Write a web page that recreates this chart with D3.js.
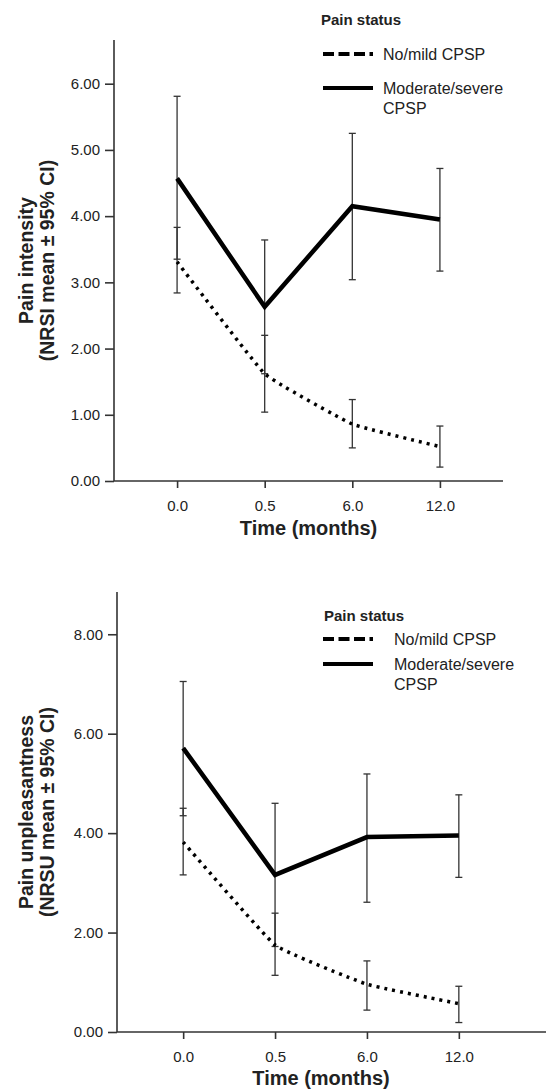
<!DOCTYPE html>
<html>
<head>
<meta charset="utf-8">
<script src="https://cdn.jsdelivr.net/npm/d3@7"></script>
<style>
  body { margin: 0; background: #fff; }
  svg { display: block; font-family: "Liberation Sans", Arial, sans-serif; }
</style>
</head>
<body>
<script>
// time points (categorical)
const timeLabels = ["0.0", "0.5", "6.0", "12.0"];

// pain intensity (NRSI)
const intensityMildMean = [3.31, 1.62, 0.86, 0.52];
const intensityMildLow = [2.84, 1.04, 0.50, 0.21];
const intensityMildHigh = [3.83, 2.20, 1.23, 0.83];
const intensitySevereMean = [4.57, 2.63, 4.15, 3.95];
const intensitySevereLow = [3.35, 1.62, 3.04, 3.17];
const intensitySevereHigh = [5.81, 3.64, 5.25, 4.72];
const intensityTicks = [0, 1, 2, 3, 4, 5, 6];

// pain unpleasantness (NRSU)
const unpleasMildMean = [3.82, 1.75, 0.96, 0.57];
const unpleasMildLow = [3.16, 1.14, 0.44, 0.19];
const unpleasMildHigh = [4.50, 2.39, 1.43, 0.92];
const unpleasSevereMean = [5.71, 3.16, 3.92, 3.95];
const unpleasSevereLow = [4.35, 1.72, 2.61, 3.11];
const unpleasSevereHigh = [7.05, 4.60, 5.19, 4.77];
const unpleasTicks = [0, 2, 4, 6, 8];

const legendTitle = "Pain status";
const legendMild = "No/mild CPSP";
const legendSevere = ["Moderate/severe", "CPSP"];

const W = 546, H = 1090;
const axisColor = "#333";
const textColor = "#222";

const svg = d3.select("body").append("svg")
  .attr("width", W)
  .attr("height", H);

function series(mean, low, high) {
  return mean.map((m, i) => ({t: timeLabels[i], mean: m, low: low[i], high: high[i]}));
}

function drawPanel(p) {
  const g = svg.append("g");

  const x = d3.scalePoint()
    .domain(timeLabels)
    .range([p.left, p.pointsRight])
    .padding(0.72);

  const y = d3.scaleLinear()
    .domain([0, p.yMax])
    .range([p.bottom, p.top]);

  // y axis
  const yAxis = g.append("g")
    .attr("transform", "translate(" + p.left + ",0)")
    .call(d3.axisLeft(y).tickValues(p.ticks).tickFormat(d3.format(".2f"))
      .tickSize(9).tickPadding(5).tickSizeOuter(0));
  yAxis.select(".domain").attr("d", "M0," + p.bottom + "V" + p.top);

  // x axis
  const xAxis = g.append("g")
    .attr("transform", "translate(0," + p.bottom + ")")
    .call(d3.axisBottom(x).tickSize(7).tickPadding(12).tickSizeOuter(0));
  xAxis.select(".domain").attr("d", "M" + p.left + ",0H" + p.axisRight);

  g.selectAll(".domain, .tick line")
    .attr("stroke", axisColor)
    .attr("stroke-width", 1.6);
  g.selectAll(".tick text")
    .attr("fill", textColor)
    .attr("font-size", 15)
    .attr("font-family", "Liberation Sans, Arial, sans-serif");

  // axis titles
  g.append("text")
    .attr("x", (x(timeLabels[0]) + x(timeLabels[3])) / 2)
    .attr("y", p.xTitleY)
    .attr("text-anchor", "middle")
    .attr("font-size", 20)
    .attr("font-weight", "bold")
    .attr("fill", textColor)
    .text("Time (months)");

  const yMid = (p.top + p.bottom) / 2;
  p.yTitle.forEach((line, i) => {
    g.append("text")
      .attr("transform", "translate(" + (33 + i * 21) + "," + yMid + ") rotate(-90)")
      .attr("text-anchor", "middle")
      .attr("font-size", 19.5)
      .attr("font-weight", "bold")
      .attr("fill", textColor)
      .text(line);
  });

  const mild = series(p.mild[0], p.mild[1], p.mild[2]);
  const severe = series(p.severe[0], p.severe[1], p.severe[2]);

  // error bars
  [severe, mild].forEach(s => {
    const eb = g.append("g").selectAll("g").data(s).join("g");
    eb.append("line")
      .attr("x1", d => x(d.t)).attr("x2", d => x(d.t))
      .attr("y1", d => y(d.low)).attr("y2", d => y(d.high));
    eb.append("line")
      .attr("x1", d => x(d.t) - 3.5).attr("x2", d => x(d.t) + 3.5)
      .attr("y1", d => y(d.low)).attr("y2", d => y(d.low));
    eb.append("line")
      .attr("x1", d => x(d.t) - 3.5).attr("x2", d => x(d.t) + 3.5)
      .attr("y1", d => y(d.high)).attr("y2", d => y(d.high));
    eb.selectAll("line").attr("stroke", axisColor).attr("stroke-width", 1.3);
  });

  // lines
  g.append("path")
    .datum(mild)
    .attr("fill", "none")
    .attr("stroke", "#000")
    .attr("stroke-width", 3.5)
    .attr("stroke-dasharray", "3,5")
    .attr("d", d3.line().x(d => x(d.t)).y(d => y(d.mean)).curve(d3.curveCardinal.tension(0.7)));

  g.append("path")
    .datum(severe)
    .attr("fill", "none")
    .attr("stroke", "#000")
    .attr("stroke-width", 4.5)
    .attr("stroke-linejoin", "miter")
    .attr("d", d3.line().x(d => x(d.t)).y(d => y(d.mean)));

  // legend
  const lg = g.append("g");
  lg.append("text")
    .attr("x", p.legend.x).attr("y", p.legend.titleY)
    .attr("font-size", 15).attr("font-weight", "bold").attr("fill", textColor)
    .text(legendTitle);
  lg.append("line")
    .attr("x1", 323).attr("x2", 373)
    .attr("y1", p.legend.row1).attr("y2", p.legend.row1)
    .attr("stroke", "#000").attr("stroke-width", 4)
    .attr("stroke-dasharray", "11,4.5");
  lg.append("line")
    .attr("x1", 323).attr("x2", 373)
    .attr("y1", p.legend.row2).attr("y2", p.legend.row2)
    .attr("stroke", "#000").attr("stroke-width", 4);
  lg.append("text")
    .attr("x", p.legend.textX).attr("y", p.legend.row1 + 5.5)
    .attr("font-size", 16).attr("fill", textColor)
    .text(legendMild);
  legendSevere.forEach((t, i) => {
    lg.append("text")
      .attr("x", p.legend.textX).attr("y", p.legend.row2 + 5.5 + i * 20)
      .attr("font-size", 16).attr("fill", textColor)
      .text(t);
  });
}

drawPanel({
  left: 114, pointsRight: 503, axisRight: 503,
  top: 40, bottom: 481, yMax: 6.66, ticks: intensityTicks,
  xTitleY: 535,
  yTitle: ["Pain intensity", "(NRSI mean \u00b1 95% CI)"],
  mild: [intensityMildMean, intensityMildLow, intensityMildHigh],
  severe: [intensitySevereMean, intensitySevereLow, intensitySevereHigh],
  legend: {x: 321, titleY: 25, row1: 54, row2: 88, textX: 383}
});

drawPanel({
  left: 117, pointsRight: 525, axisRight: 546,
  top: 592, bottom: 1032, yMax: 8.85, ticks: unpleasTicks,
  xTitleY: 1085,
  yTitle: ["Pain unpleasantness", "(NRSU mean \u00b1 95% CI)"],
  mild: [unpleasMildMean, unpleasMildLow, unpleasMildHigh],
  severe: [unpleasSevereMean, unpleasSevereLow, unpleasSevereHigh],
  legend: {x: 324, titleY: 621, row1: 639, row2: 664, textX: 394}
});
</script>
</body>
</html>
